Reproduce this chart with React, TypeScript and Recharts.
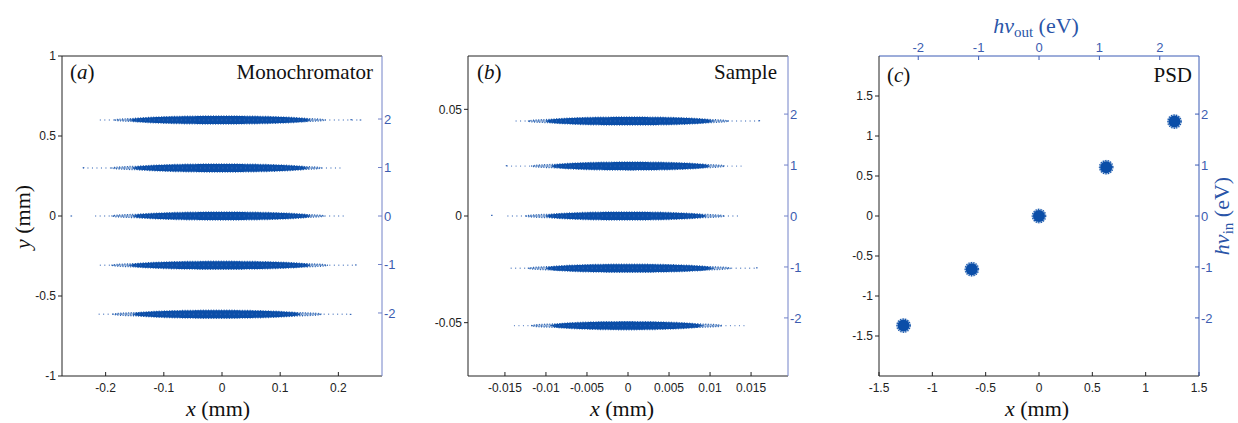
import React from 'react';
import { ScatterChart, Scatter, XAxis, YAxis, ReferenceArea, ReferenceLine } from 'recharts';

// ---------- data ----------
const ORDERS = [2, 1, 0, -1, -2];

// Panel (a) Monochromator: stripe centre heights and x extents (mm)
const monoY = [0.6, 0.3, 0, -0.308, -0.614];
const monoCoreL = [-0.158, -0.153, -0.153, -0.158, -0.153];
const monoCoreR = [0.152, 0.147, 0.152, 0.152, 0.135];
const monoHaloL = [-0.185, -0.19, -0.19, -0.19, -0.188];
const monoHaloR = [0.178, 0.172, 0.176, 0.182, 0.172];
const monoTailL = [-0.21, -0.239, -0.218, -0.21, -0.212];
const monoTailR = [0.238, 0.204, 0.21, 0.23, 0.221];
const monoSpread = 0.025;
const monoOutliers = [
  { x: -0.259, y: 0 },
  { x: 0.238, y: 0.6 },
  { x: 0.222, y: 0.602 },
  { x: -0.238, y: 0.302 },
  { x: 0.221, y: -0.615 },
  { x: 0.23, y: -0.306 },
];

// Panel (b) Sample
const sampleY = [0.0445, 0.0234, 0, -0.0245, -0.0514];
const sampleCoreL = [-0.0100, -0.0093, -0.0100, -0.0100, -0.0093];
const sampleCoreR = [0.0103, 0.0099, 0.0095, 0.0103, 0.0090];
const sampleHaloL = [-0.0122, -0.0118, -0.0125, -0.0122, -0.0118];
const sampleHaloR = [0.0123, 0.0118, 0.0118, 0.0125, 0.0115];
const sampleTailL = [-0.0137, -0.0148, -0.0147, -0.0143, -0.0139];
const sampleTailR = [0.016, 0.0141, 0.0135, 0.0157, 0.0145];
const sampleSpread = 0.0019;
const sampleOutliers = [
  { x: -0.0166, y: 0.0003 },
  { x: 0.016, y: 0.0447 },
  { x: 0.0157, y: -0.0243 },
  { x: -0.0148, y: 0.0236 },
];

// Panel (c) PSD
const psdX = [-1.27, -0.63, 0, 0.63, 1.27];
const psdY = [-1.37, -0.665, 0, 0.61, 1.18];
const psdOut = [-2.25, -1.12, 0, 1.12, 2.25]; // hν_out of the spots on the top scale

// ticks
const monoXTicks = [-0.2, -0.1, 0, 0.1, 0.2];
const monoYTicks = [-1, -0.5, 0, 0.5, 1];
const sampleXTicks = [-0.015, -0.01, -0.005, 0, 0.005, 0.01, 0.015];
const sampleYTicks = [-0.05, 0, 0.05];
const psdXTicks = [-1.5, -1, -0.5, 0, 0.5, 1, 1.5];
const psdYTicks = [-1.5, -1, -0.5, 0, 0.5, 1, 1.5];
const energyTicks = [-2, -1, 0, 1, 2];

// ---------- styles ----------
const BLUE = '#0b4ea8';
const TICK_BLUE = '#3c5cb0';
const AXIS_BLUE_LIGHT = '#7282c8';
const AXIS_BLUE = '#3a5ab5';
const DARK = '#222';
const SANS = '"Liberation Sans", Arial, sans-serif';
const SERIF = '"Liberation Serif", "Times New Roman", serif';

const tickDark = { fill: '#222', fontSize: 12, fontFamily: SANS };
const tickBlue = { fill: TICK_BLUE, fontSize: 13, fontFamily: SANS };

// rod-like stripe with a flat middle and tapered ends
const rodShape = (opacity: number, jag: boolean) => (props: any) => {
  const { x, y, width, height } = props;
  if (x == null || y == null) return null;
  const cx = x + width / 2;
  const cy = y + height / 2;
  const rx = Math.abs(width) / 2;
  const ry = Math.abs(height) / 2;
  const n = 48;
  const top: string[] = [];
  const bot: string[] = [];
  for (let k = 0; k <= n; k++) {
    const t = -1 + (2 * k) / n;
    const h = ry * Math.pow(Math.max(0, 1 - t * t), 0.45);
    top.push(`${(cx + t * rx).toFixed(2)},${(cy - h).toFixed(2)}`);
    bot.unshift(`${(cx + t * rx).toFixed(2)},${(cy + h).toFixed(2)}`);
  }
  const d = `M${top.join(' L')} L${bot.join(' L')} Z`;
  return (
    <path
      d={d}
      fill={BLUE}
      fillOpacity={opacity}
      stroke={jag ? BLUE : 'none'}
      strokeWidth={jag ? 1.4 : 0}
      strokeDasharray={jag ? '1 1.6' : undefined}
      strokeOpacity={0.85}
    />
  );
};

const coreShape = rodShape(1, true);
const haloShape = rodShape(0.35, true);

function stripes(
  ys: number[], coreL: number[], coreR: number[], haloL: number[], haloR: number[],
  tailL: number[], tailR: number[], spread: number, prefix: string
) {
  const out: any[] = [];
  ORDERS.forEach((_, i) => {
    out.push(
      <ReferenceLine
        key={`${prefix}t${i}`}
        segment={[{ x: tailL[i], y: ys[i] }, { x: tailR[i], y: ys[i] }]}
        stroke="#3a6ab8"
        strokeWidth={1.4}
        strokeDasharray="1 3.5"
        strokeOpacity={0.75}
      />
    );
    out.push(
      <ReferenceArea
        key={`${prefix}h${i}`}
        x1={haloL[i]} x2={haloR[i]}
        y1={ys[i] - spread * 0.6} y2={ys[i] + spread * 0.6}
        shape={haloShape}
      />
    );
    out.push(
      <ReferenceArea
        key={`${prefix}c${i}`}
        x1={coreL[i]} x2={coreR[i]}
        y1={ys[i] - spread} y2={ys[i] + spread}
        shape={coreShape}
      />
    );
  });
  return out;
}

const dotShape = (props: any) => {
  const { cx, cy } = props;
  if (cx == null) return null;
  return <rect x={cx - 0.8} y={cy - 0.6} width={1.6} height={1.2} fill="#3a6ab8" />;
};

const noShape = () => <g />;

const blobShape = (props: any) => {
  const { cx, cy } = props;
  if (cx == null) return null;
  return (
    <g>
      <circle cx={cx} cy={cy} r={7.4} fill={BLUE} fillOpacity={0.3} />
      <circle cx={cx} cy={cy} r={6.6} fill="none" stroke={BLUE} strokeWidth={1.4} strokeDasharray="1 1.5" />
      <circle cx={cx} cy={cy} r={6} fill={BLUE} />
    </g>
  );
};

export default function App() {
  const psdData = psdX.map((x, i) => ({ x, y: psdY[i] }));
  const psdTopData = psdOut.map((x, i) => ({ x, y: psdY[i] }));
  return (
    <div style={{ position: 'absolute', left: 0, top: 0, width: 1238, height: 423, background: '#fff' }}>
      {/* Panel (a) */}
      <div style={{ position: 'absolute', left: 0, top: 0 }}>
        <ScatterChart width={420} height={423} margin={{ top: 56, right: 0, bottom: 0, left: 0 }}>
          <XAxis
            type="number" dataKey="x" domain={[-0.275, 0.275]} ticks={monoXTicks} interval={0}
            allowDataOverflow height={47} tickSize={-4} tickMargin={11}
            tick={tickDark} axisLine={{ stroke: DARK }} tickLine={{ stroke: DARK }}
          />
          <YAxis
            type="number" dataKey="y" domain={[-1, 1]} ticks={monoYTicks} interval={0}
            allowDataOverflow width={62} tickSize={4} tickMargin={2}
            tick={tickDark} axisLine={{ stroke: DARK }} tickLine={{ stroke: DARK }}
          />
          <YAxis
            yAxisId="r" orientation="right" type="number" domain={[-3.3, 3.3]} ticks={energyTicks} interval={0}
            allowDataOverflow width={38} tickSize={-4} tickMargin={6}
            tick={tickBlue} axisLine={{ stroke: AXIS_BLUE_LIGHT }} tickLine={{ stroke: AXIS_BLUE_LIGHT }}
          />
          <ReferenceLine y={1} stroke={DARK} strokeWidth={1} />
          {stripes(monoY, monoCoreL, monoCoreR, monoHaloL, monoHaloR, monoTailL, monoTailR, monoSpread, 'a')}
          <Scatter data={monoOutliers} shape={dotShape} isAnimationActive={false} />
        </ScatterChart>
      </div>

      {/* Panel (b) */}
      <div style={{ position: 'absolute', left: 420, top: 0 }}>
        <ScatterChart width={410} height={423} margin={{ top: 56, right: 0, bottom: 0, left: 0 }}>
          <XAxis
            type="number" dataKey="x" domain={[-0.0195, 0.0195]} ticks={sampleXTicks} interval={0}
            allowDataOverflow height={47} tickSize={-4} tickMargin={11}
            tick={tickDark} axisLine={{ stroke: DARK }} tickLine={{ stroke: DARK }}
          />
          <YAxis
            type="number" dataKey="y" domain={[-0.075, 0.075]} ticks={sampleYTicks} interval={0}
            allowDataOverflow width={48} tickSize={4} tickMargin={2}
            tick={tickDark} axisLine={{ stroke: DARK }} tickLine={{ stroke: DARK }}
          />
          <YAxis
            yAxisId="r" orientation="right" type="number" domain={[-3.14, 3.14]} ticks={energyTicks} interval={0}
            allowDataOverflow width={42} tickSize={-4} tickMargin={6}
            tick={tickBlue} axisLine={{ stroke: AXIS_BLUE_LIGHT }} tickLine={{ stroke: AXIS_BLUE_LIGHT }}
          />
          <ReferenceLine y={0.075} stroke={DARK} strokeWidth={1} />
          {stripes(sampleY, sampleCoreL, sampleCoreR, sampleHaloL, sampleHaloR, sampleTailL, sampleTailR, sampleSpread, 'b')}
          <Scatter data={sampleOutliers} shape={dotShape} isAnimationActive={false} />
        </ScatterChart>
      </div>

      {/* Panel (c) */}
      <div style={{ position: 'absolute', left: 830, top: 0 }}>
        <ScatterChart width={408} height={423} margin={{ top: 0, right: 0, bottom: 0, left: 0 }}>
          <XAxis
            type="number" dataKey="x" domain={[-1.5, 1.5]} ticks={psdXTicks} interval={0}
            allowDataOverflow height={47} tickSize={-4} tickMargin={11}
            tick={tickDark} axisLine={{ stroke: DARK }} tickLine={{ stroke: DARK }}
          />
          <XAxis
            xAxisId="t" orientation="top" type="number" dataKey="x" domain={[-2.65, 2.65]} ticks={energyTicks} interval={0}
            allowDataOverflow height={56} tickSize={-4} tickMargin={8}
            tick={tickBlue} axisLine={{ stroke: AXIS_BLUE }} tickLine={{ stroke: AXIS_BLUE }}
          />
          <YAxis
            type="number" dataKey="y" domain={[-2, 2]} ticks={psdYTicks} interval={0}
            allowDataOverflow width={49} tickSize={4} tickMargin={2}
            tick={tickDark} axisLine={{ stroke: DARK }} tickLine={{ stroke: DARK }}
          />
          <YAxis
            yAxisId="r" orientation="right" type="number" domain={[-3.14, 3.14]} ticks={energyTicks} interval={0}
            allowDataOverflow width={39} tickSize={-4} tickMargin={6}
            tick={tickBlue} axisLine={{ stroke: AXIS_BLUE }} tickLine={{ stroke: AXIS_BLUE }}
          />
          <Scatter xAxisId="t" data={psdTopData} shape={noShape} isAnimationActive={false} />
          <Scatter data={psdData} shape={blobShape} isAnimationActive={false} />
        </ScatterChart>
      </div>

      {/* Annotations */}
      <svg
        width={1238}
        height={423}
        style={{ position: 'absolute', left: 0, top: 0, pointerEvents: 'none' }}
      >
        <g fontFamily={SERIF} fontSize={21} fill="#111">
          <text x={70} y={79}>(<tspan fontStyle="italic">a</tspan>)</text>
          <text x={373} y={79} textAnchor="end">Monochromator</text>
          <text x={477} y={79}>(<tspan fontStyle="italic">b</tspan>)</text>
          <text x={777} y={79} textAnchor="end">Sample</text>
          <text x={887} y={82}>(<tspan fontStyle="italic">c</tspan>)</text>
          <text x={1192} y={82} textAnchor="end">PSD</text>
        </g>
        <g fontFamily={SERIF} fontSize={22} fill="#111">
          <text x={218} y={416} textAnchor="middle"><tspan fontStyle="italic">x</tspan> (mm)</text>
          <text x={622} y={416} textAnchor="middle"><tspan fontStyle="italic">x</tspan> (mm)</text>
          <text x={1037} y={416} textAnchor="middle"><tspan fontStyle="italic">x</tspan> (mm)</text>
          <text x={0} y={0} textAnchor="middle" transform="translate(30,217) rotate(-90)">
            <tspan fontStyle="italic">y</tspan> (mm)
          </text>
        </g>
        <g fontFamily={SERIF} fontSize={22} fill="#2a55a8">
          <text x={1036} y={33} textAnchor="middle">
            <tspan fontStyle="italic">hν</tspan>
            <tspan fontSize={15} dy={4}>out</tspan>
            <tspan dy={-4}> (eV)</tspan>
          </text>
          <text x={0} y={0} textAnchor="middle" transform="translate(1229,216) rotate(-90)">
            <tspan fontStyle="italic">hν</tspan>
            <tspan fontSize={15} dy={4}>in</tspan>
            <tspan dy={-4}> (eV)</tspan>
          </text>
        </g>
      </svg>
    </div>
  );
}
